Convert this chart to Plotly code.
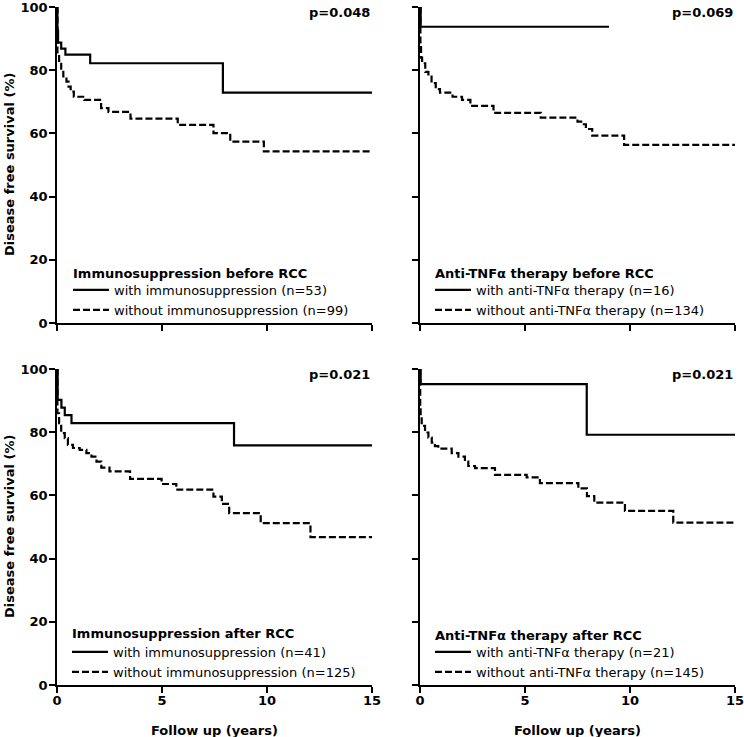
import plotly.graph_objects as go

# ---------------- data (Kaplan-Meier step points, years / %) ----------------
tl_with_t = [0, 0.02, 0.05, 0.2, 0.4, 1.58, 7.9, 15]
tl_with_s = [100, 92.5, 88.7, 86.8, 84.9, 82.2, 72.9, 72.9]
tl_without_t = [0, 0.02, 0.1, 0.2, 0.3, 0.45, 0.55, 0.65, 0.8, 1.3, 2.1, 2.45, 3.5, 5.75, 7.45, 8.25, 9.85, 15]
tl_without_s = [100, 85.0, 82.0, 80.0, 78.0, 76.4, 74.8, 73.2, 71.6, 70.6, 68.0, 66.8, 64.7, 62.7, 60.1, 57.4, 54.3, 54.3]

tr_with_t = [0, 0.03, 9.0]
tr_with_s = [100, 93.75, 93.75]
tr_without_t = [0, 0.02, 0.05, 0.1, 0.25, 0.4, 0.55, 0.75, 0.95, 1.55, 2.0, 2.4, 3.5, 5.75, 7.5, 7.73, 7.9, 8.2, 9.72, 15]
tr_without_s = [100, 88.0, 84.0, 82.2, 79.5, 78.0, 75.9, 74.0, 72.9, 71.6, 70.6, 68.7, 66.5, 65.0, 63.7, 62.9, 61.4, 59.3, 56.4, 56.4]

bl_with_t = [0, 0.03, 0.21, 0.37, 0.69, 8.43, 15]
bl_with_s = [100, 90.2, 87.8, 85.4, 82.9, 75.8, 75.8]
bl_without_t = [0, 0.02, 0.1, 0.2, 0.37, 0.52, 0.76, 1.08, 1.4, 1.64, 1.88, 2.11, 2.5, 3.48, 4.98, 5.68, 7.45, 7.85, 8.2, 9.7, 12.07, 15]
bl_without_s = [100, 86.0, 82.9, 79.7, 78.1, 76.0, 75.0, 74.4, 73.4, 72.3, 70.7, 68.8, 67.6, 65.2, 63.6, 61.8, 59.6, 57.3, 54.4, 51.2, 46.8, 46.8]

br_with_t = [0, 0.03, 7.94, 15]
br_with_s = [100, 95.2, 79.2, 79.2]
br_without_t = [0, 0.01, 0.03, 0.08, 0.24, 0.4, 0.56, 0.71, 0.87, 1.51, 1.83, 2.14, 2.3, 2.62, 3.57, 5.08, 5.71, 7.54, 7.95, 8.3, 9.76, 12.06, 15]
br_without_s = [100, 88.0, 85.3, 82.0, 79.9, 78.3, 76.7, 75.6, 74.8, 73.4, 72.3, 70.7, 69.3, 68.6, 66.5, 65.7, 63.9, 62.2, 59.8, 57.7, 55.1, 51.4, 51.4]

panel_titles = ["Immunosuppression before RCC", "Anti-TNFα therapy before RCC",
                "Immunosuppression after RCC", "Anti-TNFα therapy after RCC"]
with_names = ["with immunosuppression (n=53)", "with anti-TNFα therapy (n=16)",
              "with immunosuppression (n=41)", "with anti-TNFα therapy (n=21)"]
without_names = ["without immunosuppression (n=99)", "without anti-TNFα therapy (n=134)",
                 "without immunosuppression (n=125)", "without anti-TNFα therapy (n=145)"]
p_values = ["p=0.048", "p=0.069", "p=0.021", "p=0.021"]
x_ticks = [0, 5, 10, 15]
y_ticks = [0, 20, 40, 60, 80, 100]
x_title = "Follow up (years)"
y_title = "Disease free survival (%)"

# ---------------- figure ----------------
FONT = "DejaVu Sans"
W, H = 744, 737
ML, MR, MT, MB = 57, 9, 7, 52
PW, PH = W - ML - MR, H - MT - MB

xdoms = [[0, 315 / PW], [363 / PW, 1], [0, 315 / PW], [363 / PW, 1]]
ydoms = [[362 / PH, 1], [362 / PH, 1], [0, 316 / PH], [0, 316 / PH]]

data = [
    (tl_with_t, tl_with_s, tl_without_t, tl_without_s),
    (tr_with_t, tr_with_s, tr_without_t, tr_without_s),
    (bl_with_t, bl_with_s, bl_without_t, bl_without_s),
    (br_with_t, br_with_s, br_without_t, br_without_s),
]

def px_x(p):
    return (p - ML) / PW

def px_y(p):
    return (H - MB - p) / PH

# legend block anchors in pixels: (left x, title centre y, legend top y)
legend_px = [(73, 273, 275), (435, 273, 275), (72, 633, 637), (435, 635, 637)]

fig = go.Figure()
layout = dict(
    width=W, height=H,
    margin=dict(l=ML, r=MR, t=MT, b=MB, autoexpand=False),
    paper_bgcolor="white", plot_bgcolor="white",
    font=dict(family=FONT, size=13, color="black"),
    annotations=[],
)

for i in range(4):
    n = "" if i == 0 else str(i + 1)
    xa, ya = "x" + n, "y" + n
    leg = "legend" + n
    wt, ws, wot, wos = data[i]
    fig.add_trace(go.Scatter(x=wt, y=ws, mode="lines", line=dict(color="black", width=2.2, shape="hv"),
                             name=with_names[i], xaxis=xa, yaxis=ya, legend=leg, cliponaxis=False))
    fig.add_trace(go.Scatter(x=wot, y=wos, mode="lines",
                             line=dict(color="black", width=2.2, shape="hv", dash="7px,3px"),
                             name=without_names[i], xaxis=xa, yaxis=ya, legend=leg, cliponaxis=False))
    common = dict(showline=True, linecolor="black", linewidth=1.5, ticks="outside", ticklen=6,
                  tickwidth=1.5, tickcolor="black", showgrid=False, zeroline=False, automargin=False,
                  ticklabeloverflow="allow",
                  tickfont=dict(family=FONT, size=13, color="black", weight="bold"))
    layout["xaxis" + n] = dict(common, domain=xdoms[i], range=[0, 15], tickvals=x_ticks,
                               showticklabels=(i >= 2), anchor=ya, ticklabelstandoff=-3)
    layout["yaxis" + n] = dict(common, domain=ydoms[i], range=[0, 100], tickvals=y_ticks,
                               showticklabels=(i % 2 == 0), anchor=xa, ticklabelstandoff=-1)
    lx, ty, ly = legend_px[i]
    layout[leg] = dict(x=px_x(lx - 5), y=px_y(ly), xanchor="left", yanchor="top", bgcolor="rgba(0,0,0,0)",
                       borderwidth=0, itemwidth=36, tracegroupgap=0,
                       font=dict(family=FONT, size=13, color="black"))
    layout["annotations"].append(dict(text=panel_titles[i], xref="paper", yref="paper",
                                      x=px_x(lx - 2), y=px_y(ty), xanchor="left", yanchor="middle",
                                      showarrow=False, font=dict(family=FONT, size=13, weight="bold")))
    layout["annotations"].append(dict(text=p_values[i], xref=xa + " domain", yref=ya + " domain",
                                      x=1, y=1.012, xanchor="right", yanchor="top", showarrow=False,
                                      font=dict(family=FONT, size=13, weight="bold")))
    if i >= 2:
        layout["annotations"].append(dict(text=x_title, xref=xa + " domain", yref="paper",
                                          x=0.5, y=px_y(730), xanchor="center", yanchor="middle",
                                          showarrow=False, font=dict(family=FONT, size=13, weight="bold")))
    if i % 2 == 0:
        layout["annotations"].append(dict(text=y_title, xref="paper", yref=ya + " domain",
                                          x=px_x(9), y=0.5, xanchor="center", yanchor="middle",
                                          textangle=-90, showarrow=False,
                                          font=dict(family=FONT, size=13, weight="bold")))

fig.update_layout(**layout)
fig.write_html("out.html", config={"displayModeBar": False},
               post_script="document.body.style.margin='0';document.body.style.overflow='hidden';")
